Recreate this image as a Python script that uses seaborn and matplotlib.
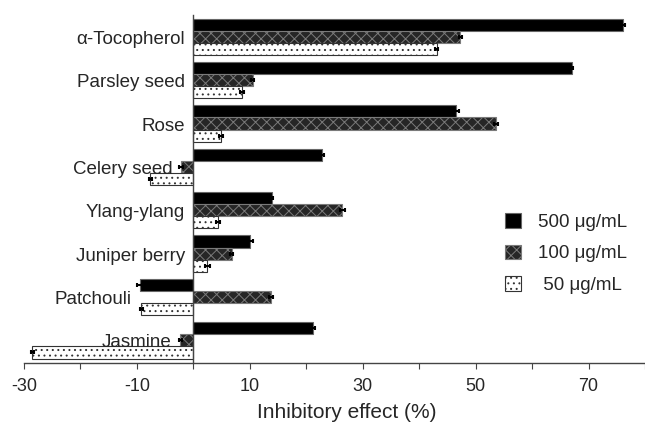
import matplotlib
matplotlib.use("Agg")
import matplotlib.pyplot as plt
import matplotlib.patches as mpatches
import seaborn as sns
import pandas as pd
import numpy as np

categories = ["α-Tocopherol", "Parsley seed", "Rose", "Celery seed",
              "Ylang-ylang", "Juniper berry", "Patchouli", "Jasmine"]
conc_labels = ["500 μg/mL", "100 μg/mL", " 50 μg/mL"]
v500 = [76.1, 67.0, 46.6, 22.8, 13.9, 10.1, -9.5, 21.2]
v100 = [47.3, 10.5, 53.6, -2.2, 26.4, 6.8, 13.8, -2.3]
v50 = [43.1, 8.6, 4.9, -7.6, 4.4, 2.5, -9.2, -28.5]
e500 = [0.4, 0.3, 0.4, 0.4, 0.3, 0.4, 0.4, 0.4]
e100 = [0.3, 0.3, 0.4, 0.3, 0.4, 0.3, 0.3, 0.3]
e50 = [0.3, 0.4, 0.3, 0.3, 0.3, 0.4, 0.3, 0.3]
xticks_major = [-30, -10, 10, 30, 50, 70]
xticks_minor = [-20, 0, 20, 40, 60, 80]

sns.set_style("white")
plt.rcParams['font.family'] = ['Liberation Sans', 'DejaVu Sans']
plt.rcParams['hatch.linewidth'] = 0.7
plt.rcParams['axes.unicode_minus'] = False

rows = []
for lab, vals, errs in zip(conc_labels, [v500, v100, v50], [e500, e100, e50]):
    for c, v, e in zip(categories, vals, errs):
        rows.append({"cat": c, "val": v, "err": e, "conc": lab})
df = pd.DataFrame(rows)

fig = plt.figure(figsize=(6.45, 4.32), dpi=100)
ax = fig.add_axes([0.037, 0.16, 0.963, 0.805])

sns.barplot(data=df, y="cat", x="val", hue="conc", order=categories,
            hue_order=conc_labels, orient="h", errorbar=None, width=0.84,
            ax=ax, legend=False)

styles = [
    dict(facecolor="black", edgecolor="#666666", hatch=None),
    dict(facecolor="#262626", edgecolor="#7a7a7a", hatch="xxx"),
    dict(facecolor="white", edgecolor="#333333", hatch="..."),
]
for cont, st, lab in zip(ax.containers, styles, conc_labels):
    sub = df[df.conc == lab].set_index("cat").loc[categories]
    ys = []
    for bar in cont:
        bar.set_facecolor(st["facecolor"])
        bar.set_edgecolor(st["edgecolor"])
        bar.set_linewidth(0.8)
        if st["hatch"]:
            bar.set_hatch(st["hatch"])
        ys.append(bar.get_y() + bar.get_height() / 2)
    ax.errorbar(sub["val"].values, ys, xerr=sub["err"].values, fmt="none",
                ecolor="black", elinewidth=1.5, capsize=1.5, capthick=1.5)

ax.set_xlim(-30, 80)
ax.set_ylim(len(categories) - 0.5 + 0.02, -0.5)
ax.set_xticks(xticks_major)
ax.set_xticks(xticks_minor, minor=True)
ax.tick_params(axis="x", which="both", direction="out", length=4, width=0.8,
               bottom=True, labelsize=13, pad=7, color="#444444")
ax.tick_params(axis="y", length=0, labelleft=False)
ax.set_ylabel("")
ax.set_xlabel("Inhibitory effect (%)", fontsize=15, labelpad=4)
ax.xaxis.set_label_coords(0.52, -0.115)

# category labels placed just left of the leftmost upper bar / zero line
for i, c in enumerate(categories):
    xpos = min(0, v500[i], v100[i])
    ax.annotate(c, xy=(xpos, i + 0.06), xytext=(-6, 0),
                textcoords="offset points", ha="right", va="center",
                fontsize=13.5)

for s in ["top", "right"]:
    ax.spines[s].set_visible(False)
ax.spines["left"].set_position(("data", 0))
ax.spines["left"].set_color("#444444")
ax.spines["bottom"].set_color("#444444")
ax.spines["left"].set_linewidth(1.0)
ax.spines["bottom"].set_linewidth(1.0)

handles = [mpatches.Patch(facecolor=st["facecolor"], edgecolor=st["edgecolor"],
                          hatch=st["hatch"], linewidth=0.8) for st in styles]
ax.legend(handles, conc_labels, frameon=False, fontsize=13.5,
          handlelength=0.85, handleheight=0.85, labelspacing=0.7,
          handletextpad=0.9, loc="upper left",
          bbox_to_anchor=(0.757, 0.545), bbox_transform=fig.transFigure)

fig.savefig("out.png", dpi=100)
